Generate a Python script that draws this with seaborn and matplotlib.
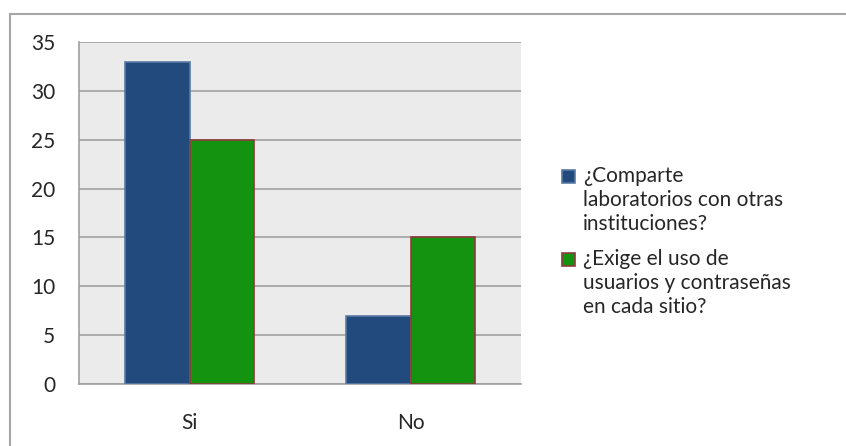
import matplotlib
matplotlib.use("Agg")
import matplotlib.pyplot as plt
from matplotlib.patches import Rectangle
import seaborn as sns
import pandas as pd

# Survey answers per question
categories = ["Si", "No"]
series_names = ["¿Comparte\nlaboratorios con otras\ninstituciones?",
                "¿Exige el uso de\nusuarios y contraseñas\nen cada sitio?"]
comparte = [33, 7]
exige = [25, 15]
y_ticks = [0, 5, 10, 15, 20, 25, 30, 35]

fill_colors = ["#224A7D", "#149310"]
edge_colors = ["#5A7BA6", "#8E3B3B"]

df = pd.DataFrame({
    "respuesta": categories * 2,
    "serie": [series_names[0]] * len(categories) + [series_names[1]] * len(categories),
    "valor": comparte + exige,
})

sns.set_style("white")
plt.rcParams["font.family"] = ["Lato", "DejaVu Sans"]
FS = 15

W, H = 846, 446
fig = plt.figure(figsize=(W / 100, H / 100), dpi=100)

# outer chart frame (only top and left edges visible)
fig.add_artist(Rectangle((9.5 / W, -0.1), 2, (H - 13.5) / H + 0.1,
                         transform=fig.transFigure, fill=False,
                         edgecolor="#A6A6A6", linewidth=1.5))

ax = fig.add_axes([79 / W, (H - 384) / H, 442 / W, 342 / H])
ax.set_facecolor("#EBEBEB")

sns.barplot(data=df, x="respuesta", y="valor", hue="serie",
            order=categories, hue_order=series_names,
            palette=fill_colors, width=0.58, gap=0, ax=ax,
            legend=False, saturation=1)

for i, container in enumerate(ax.containers):
    for bar in container:
        bar.set_edgecolor(edge_colors[i])
        bar.set_linewidth(1.2)
        bar.set_zorder(3)

ax.set_xlim(-0.5, 1.5)
ax.set_ylim(0, 35)
ax.set_yticks(y_ticks)
ax.set_yticklabels([str(v) for v in y_ticks], fontsize=FS)
ax.yaxis.grid(True, color="#A0A0A0", linewidth=1.2, zorder=0)
ax.set_axisbelow(True)

ax.set_xticks([0, 1])
ax.set_xticklabels(categories, fontsize=FS)
ax.tick_params(axis="x", length=0, pad=21)
ax.set_xticks([-0.5, 0.5, 1.5], minor=True)
ax.tick_params(axis="x", which="minor", length=8, color="#A0A0A0",
               width=1.2, direction="out")
ax.tick_params(axis="y", length=9, color="#A0A0A0", width=1.2,
               direction="out", pad=8)
ax.set_xlabel("")
ax.set_ylabel("")

for side in ["top", "right"]:
    ax.spines[side].set_visible(False)
for side in ["left", "bottom"]:
    ax.spines[side].set_color("#A0A0A0")
    ax.spines[side].set_linewidth(1.2)

# legend: square key beside the first line of each wrapped label
legend_rows = [176, 259]
for i, name in enumerate(series_names):
    yc = legend_rows[i]
    fig.add_artist(Rectangle((562 / W, (H - yc - 6.5) / H), 13 / W, 13 / H,
                             transform=fig.transFigure,
                             facecolor=fill_colors[i], edgecolor=edge_colors[i],
                             linewidth=1.2))
    fig.text(583 / W, (H - yc + 10) / H, name, fontsize=FS, va="top",
             ha="left", linespacing=1.25)

fig.savefig("out.png", dpi=100, facecolor="white")
